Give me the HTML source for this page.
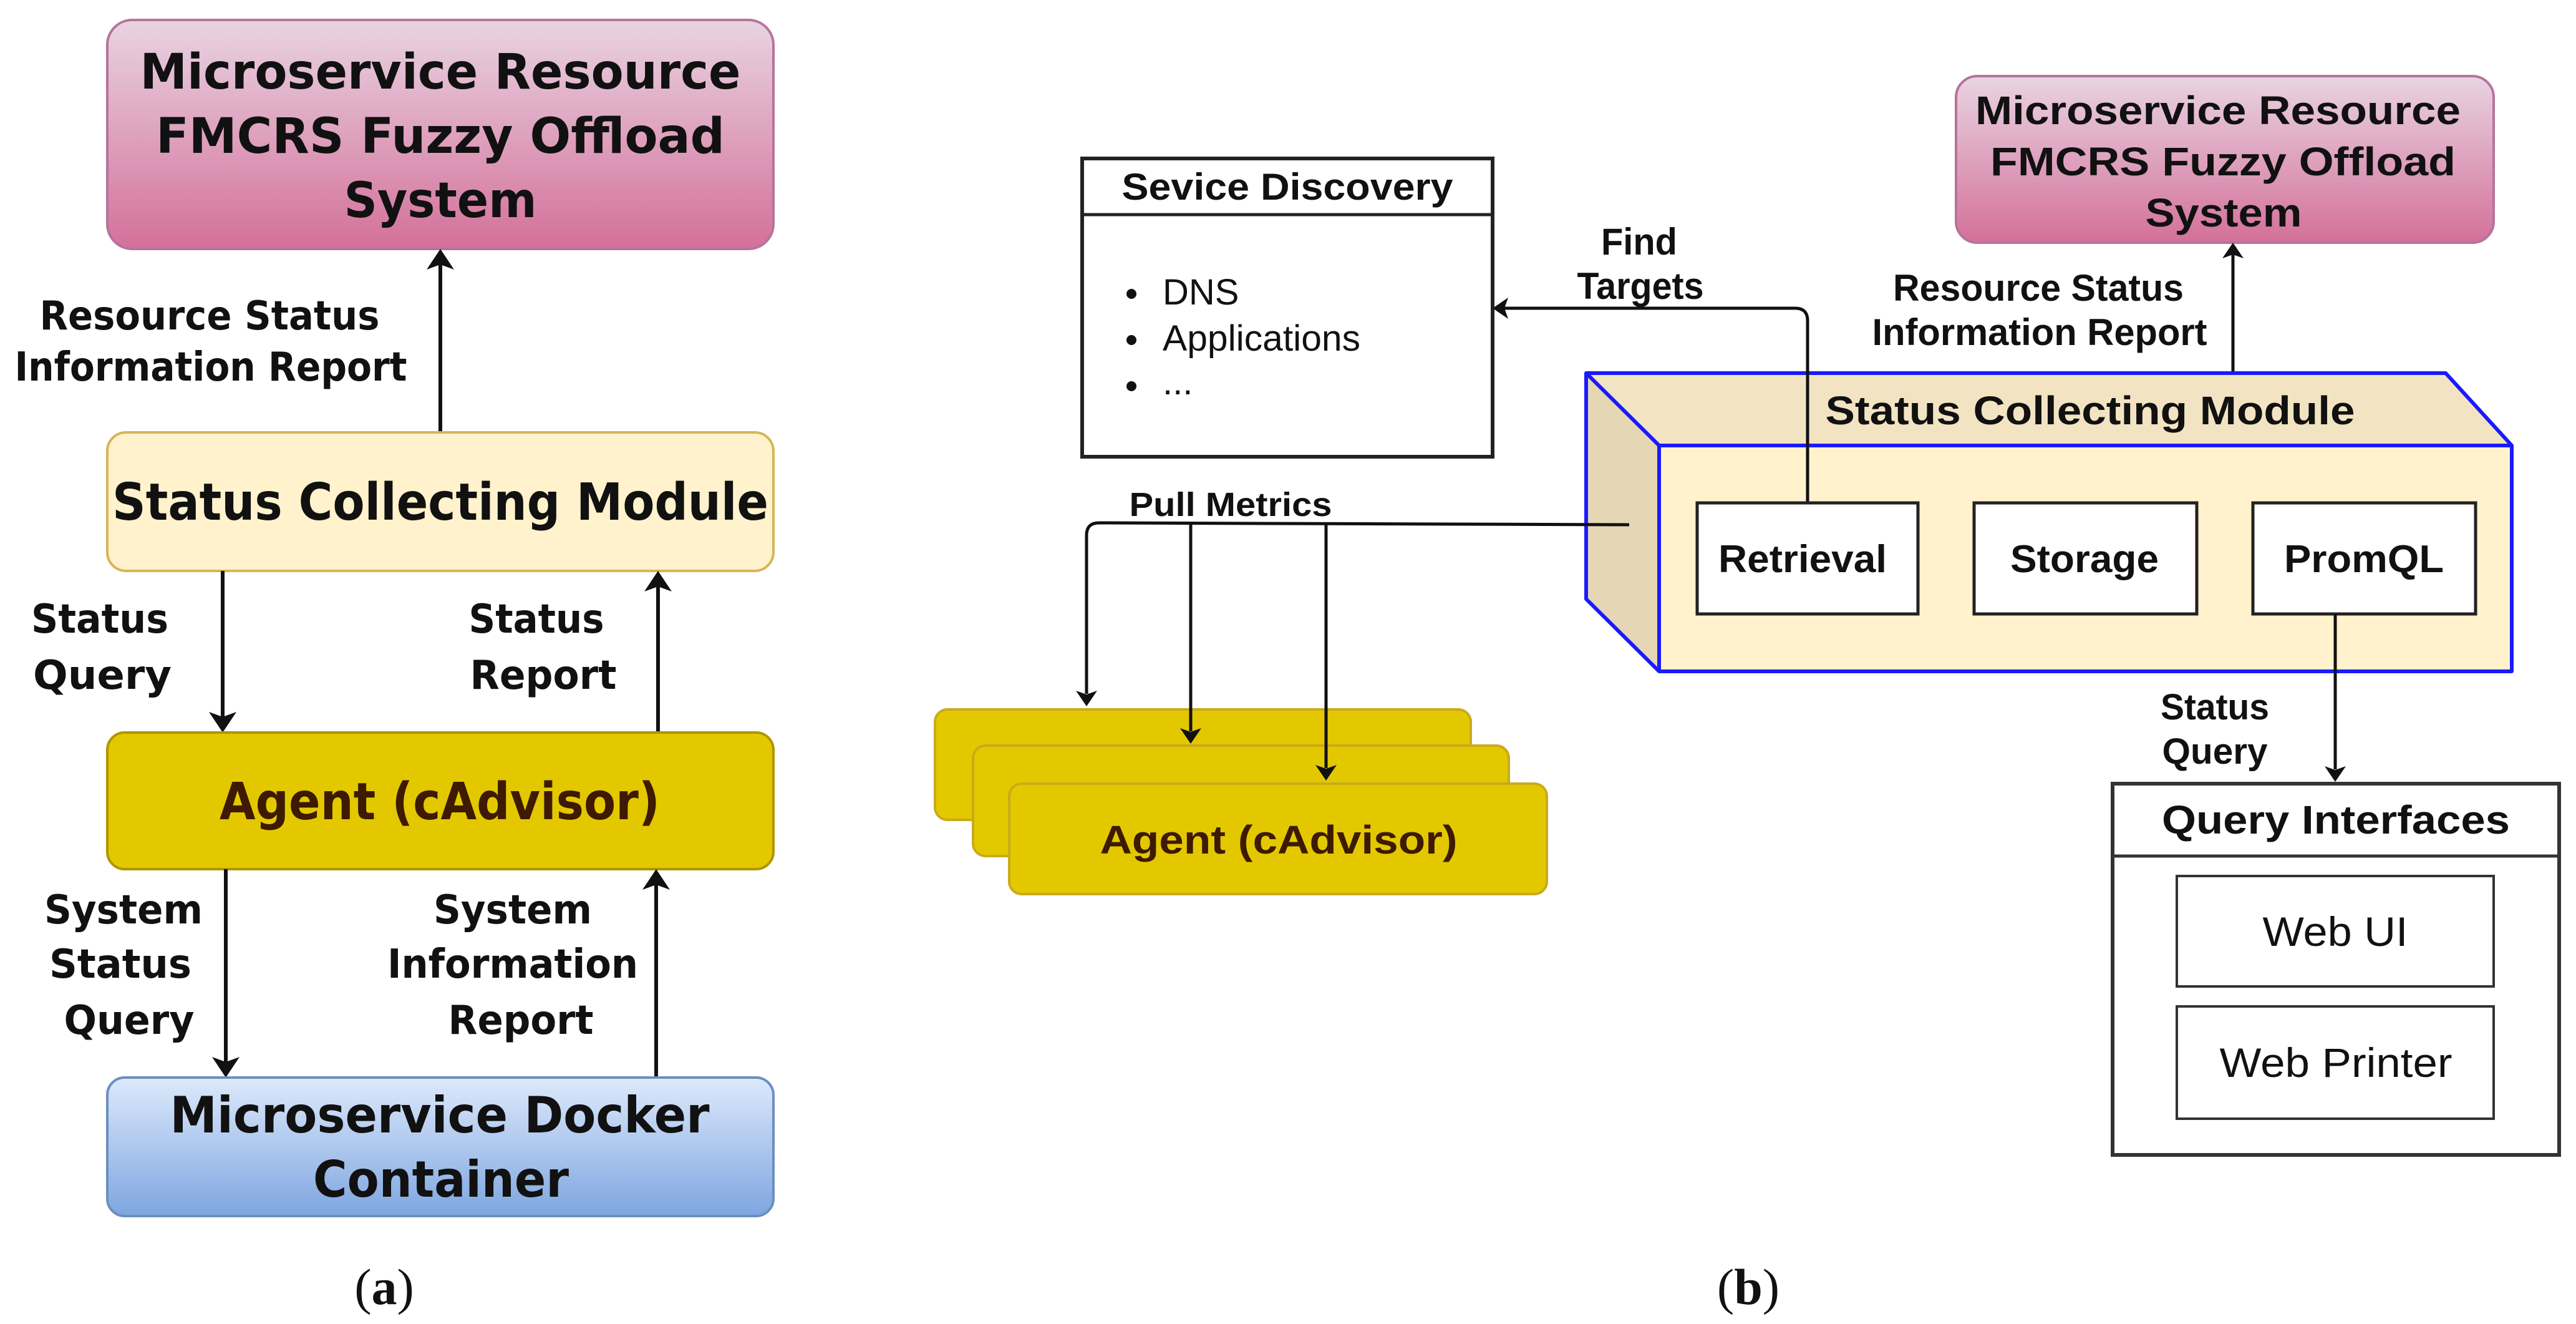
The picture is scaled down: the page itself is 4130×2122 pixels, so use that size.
<!DOCTYPE html>
<html><head><meta charset="utf-8"><style>
html,body{margin:0;padding:0;background:#fff;}
svg{display:block;}
</style></head><body>
<svg xmlns="http://www.w3.org/2000/svg" width="4130" height="2122" viewBox="0 0 4130 2122">
<defs>
<linearGradient id="pink" x1="0" y1="0" x2="0" y2="1"><stop offset="0" stop-color="#e8d4e2"/><stop offset="1" stop-color="#d4709a"/></linearGradient>
<linearGradient id="blue" x1="0" y1="0" x2="0" y2="1"><stop offset="0" stop-color="#dde9fb"/><stop offset="1" stop-color="#7ea6e0"/></linearGradient>
</defs>
<style>
.a{font-family:"DejaVu Sans","Liberation Sans",sans-serif;font-weight:bold;fill:#111;}
.b{font-family:"Liberation Sans",sans-serif;font-weight:bold;fill:#111;}
.n{font-family:"Liberation Sans",sans-serif;fill:#111;}
.s{font-family:"Liberation Serif",serif;fill:#111;}
.ln{stroke:#111;stroke-width:6;fill:none;}
</style>

<!-- ===== Panel (a) ===== -->
<rect x="172" y="32" width="1068" height="367" rx="40" fill="url(#pink)" stroke="#b5739d" stroke-width="4"/>
<text class="a" font-size="78" x="706" y="142" text-anchor="middle" textLength="963" lengthAdjust="spacingAndGlyphs">Microservice Resource</text>
<text class="a" font-size="78" x="706" y="245" text-anchor="middle" textLength="912" lengthAdjust="spacingAndGlyphs">FMCRS Fuzzy Offload</text>
<text class="a" font-size="78" x="706" y="348" text-anchor="middle" textLength="309" lengthAdjust="spacingAndGlyphs">System</text>

<line class="ln" x1="706" y1="693" x2="706" y2="420"/>
<polygon points="706,399 684,432 706,424 728,432" fill="#111"/>
<text class="a" font-size="64" x="336" y="528" text-anchor="middle" textLength="545" lengthAdjust="spacingAndGlyphs">Resource Status</text>
<text class="a" font-size="64" x="338" y="610" text-anchor="middle" textLength="629" lengthAdjust="spacingAndGlyphs">Information Report</text>

<rect x="172" y="693" width="1068" height="222" rx="30" fill="#fff2cc" stroke="#d6b656" stroke-width="4"/>
<text class="a" font-size="82" x="706" y="833" text-anchor="middle" textLength="1052" lengthAdjust="spacingAndGlyphs">Status Collecting Module</text>

<line class="ln" x1="357" y1="915" x2="357" y2="1152"/>
<polygon points="357,1174 335,1141 357,1149 379,1141" fill="#111"/>
<line class="ln" x1="1055" y1="1174" x2="1055" y2="936"/>
<polygon points="1055,915 1033,948 1055,940 1077,948" fill="#111"/>
<text class="a" font-size="64" x="160" y="1014" text-anchor="middle" textLength="220" lengthAdjust="spacingAndGlyphs">Status</text>
<text class="a" font-size="64" x="164" y="1104" text-anchor="middle" textLength="222" lengthAdjust="spacingAndGlyphs">Query</text>
<text class="a" font-size="64" x="860" y="1014" text-anchor="middle" textLength="217" lengthAdjust="spacingAndGlyphs">Status</text>
<text class="a" font-size="64" x="871" y="1104" text-anchor="middle" textLength="235" lengthAdjust="spacingAndGlyphs">Report</text>

<rect x="172" y="1174" width="1068" height="219" rx="28" fill="#e3c800" stroke="#b09500" stroke-width="4"/>
<text class="a" font-size="82" x="705" y="1313" text-anchor="middle" textLength="706" lengthAdjust="spacingAndGlyphs" style="fill:#3d1a00">Agent (cAdvisor)</text>

<line class="ln" x1="362" y1="1393" x2="362" y2="1705"/>
<polygon points="362,1727 340,1694 362,1702 384,1694" fill="#111"/>
<line class="ln" x1="1052" y1="1727" x2="1052" y2="1414"/>
<polygon points="1052,1393 1030,1426 1052,1418 1074,1426" fill="#111"/>
<text class="a" font-size="64" x="198" y="1480" text-anchor="middle" textLength="254" lengthAdjust="spacingAndGlyphs">System</text>
<text class="a" font-size="64" x="193" y="1567" text-anchor="middle" textLength="228" lengthAdjust="spacingAndGlyphs">Status</text>
<text class="a" font-size="64" x="207" y="1657" text-anchor="middle" textLength="209" lengthAdjust="spacingAndGlyphs">Query</text>
<text class="a" font-size="64" x="822" y="1480" text-anchor="middle" textLength="254" lengthAdjust="spacingAndGlyphs">System</text>
<text class="a" font-size="64" x="822" y="1567" text-anchor="middle" textLength="402" lengthAdjust="spacingAndGlyphs">Information</text>
<text class="a" font-size="64" x="835" y="1657" text-anchor="middle" textLength="233" lengthAdjust="spacingAndGlyphs">Report</text>

<rect x="172" y="1727" width="1068" height="222" rx="28" fill="url(#blue)" stroke="#6c8ebf" stroke-width="4"/>
<text class="a" font-size="80" x="705" y="1815" text-anchor="middle" textLength="865" lengthAdjust="spacingAndGlyphs">Microservice Docker</text>
<text class="a" font-size="80" x="707" y="1918" text-anchor="middle" textLength="410" lengthAdjust="spacingAndGlyphs">Container</text>

<text class="s" font-size="82" x="616" y="2090" text-anchor="middle">(<tspan font-weight="bold">a</tspan>)</text>

<!-- ===== Panel (b) ===== -->
<rect x="1735" y="254" width="658" height="478" fill="#fff" stroke="#222" stroke-width="6"/>
<line x1="1735" y1="344" x2="2393" y2="344" stroke="#222" stroke-width="5"/>
<text class="b" font-size="60" x="2064" y="320" text-anchor="middle" textLength="531" lengthAdjust="spacingAndGlyphs">Sevice Discovery</text>
<circle cx="1814" cy="471" r="8" fill="#111"/>
<circle cx="1814" cy="545" r="8" fill="#111"/>
<circle cx="1814" cy="619" r="8" fill="#111"/>
<text class="n" font-size="58" x="1864" y="488">DNS</text>
<text class="n" font-size="58" x="1864" y="562" textLength="317" lengthAdjust="spacingAndGlyphs">Applications</text>
<text class="n" font-size="58" x="1864" y="632">...</text>

<rect x="3136" y="122" width="862" height="267" rx="34" fill="url(#pink)" stroke="#b5739d" stroke-width="4"/>
<text class="b" font-size="64" x="3556" y="199" text-anchor="middle" textLength="778" lengthAdjust="spacingAndGlyphs">Microservice Resource</text>
<text class="b" font-size="64" x="3564" y="281" text-anchor="middle" textLength="746" lengthAdjust="spacingAndGlyphs">FMCRS Fuzzy Offload</text>
<text class="b" font-size="64" x="3565" y="363" text-anchor="middle" textLength="251" lengthAdjust="spacingAndGlyphs">System</text>
<line x1="3580" y1="598" x2="3580" y2="405" stroke="#111" stroke-width="5"/>
<polygon points="3580,389 3563,414 3580,408 3597,414" fill="#111"/>
<text class="b" font-size="60" x="3268" y="482" text-anchor="middle" textLength="466" lengthAdjust="spacingAndGlyphs">Resource Status</text>
<text class="b" font-size="60" x="3270" y="553" text-anchor="middle" textLength="537" lengthAdjust="spacingAndGlyphs">Information Report</text>

<text class="b" font-size="60" x="2628" y="408" text-anchor="middle" textLength="122" lengthAdjust="spacingAndGlyphs">Find</text>
<text class="b" font-size="60" x="2630" y="479" text-anchor="middle" textLength="203" lengthAdjust="spacingAndGlyphs">Targets</text>

<polygon points="2543,598 3921,598 4027,714 2660,714" fill="#f2e4c2"/>
<polygon points="2543,598 2660,714 2660,1076 2543,960" fill="#e6d7b4"/>
<rect x="2660" y="714" width="1367" height="362" fill="#fff2cc"/>
<path d="M2543,598 L3921,598 L4027,714 L4027,1076 L2660,1076 L2543,960 Z M2543,598 L2660,714 L4027,714 M2660,714 L2660,1076" fill="none" stroke="#1a1aff" stroke-width="6" stroke-linejoin="round"/>
<text class="b" font-size="64" x="3351" y="680" text-anchor="middle" textLength="849" lengthAdjust="spacingAndGlyphs">Status Collecting Module</text>

<path d="M2898,806 L2898,514 Q2898,494 2878,494 L2412,494" fill="none" stroke="#111" stroke-width="5"/>
<polygon points="2393,494 2418,477 2412,494 2418,511" fill="#111"/>

<rect x="2721" y="806" width="354" height="178" fill="#fff" stroke="#222" stroke-width="5"/>
<rect x="3165" y="806" width="357" height="178" fill="#fff" stroke="#222" stroke-width="5"/>
<rect x="3612" y="806" width="357" height="178" fill="#fff" stroke="#222" stroke-width="5"/>
<text class="b" font-size="62" x="2890" y="917" text-anchor="middle" textLength="270" lengthAdjust="spacingAndGlyphs">Retrieval</text>
<text class="b" font-size="62" x="3342" y="917" text-anchor="middle" textLength="238" lengthAdjust="spacingAndGlyphs">Storage</text>
<text class="b" font-size="62" x="3790" y="917" text-anchor="middle" textLength="256" lengthAdjust="spacingAndGlyphs">PromQL</text>

<!-- agents (drawn first) -->
<rect x="1499" y="1137" width="859" height="177" rx="20" fill="#e3c800" stroke="#c8ab1a" stroke-width="4"/>
<rect x="1560" y="1195" width="859" height="177" rx="20" fill="#e3c800" stroke="#c8ab1a" stroke-width="4"/>
<rect x="1618" y="1256" width="862" height="177" rx="20" fill="#e3c800" stroke="#c8ab1a" stroke-width="4"/>
<text class="b" font-size="64" x="2050" y="1368" text-anchor="middle" textLength="573" lengthAdjust="spacingAndGlyphs" style="fill:#3d1a00">Agent (cAdvisor)</text>

<!-- pull metrics (on top) -->
<path d="M2612,841 L1762,838 Q1742,838 1742,858 L1742,1112" fill="none" stroke="#111" stroke-width="5"/>
<polygon points="1742,1132 1725,1107 1742,1113 1759,1107" fill="#111"/>
<line x1="1909" y1="840" x2="1909" y2="1172" stroke="#111" stroke-width="5"/>
<polygon points="1909,1192 1892,1167 1909,1173 1926,1167" fill="#111"/>
<line x1="2126" y1="841" x2="2126" y2="1231" stroke="#111" stroke-width="5"/>
<polygon points="2126,1251 2109,1226 2126,1232 2143,1226" fill="#111"/>
<text class="b" font-size="54" x="1973" y="827" text-anchor="middle" textLength="325" lengthAdjust="spacingAndGlyphs">Pull Metrics</text>

<line x1="3744" y1="984" x2="3744" y2="1233" stroke="#111" stroke-width="5"/>
<polygon points="3744,1253 3727,1228 3744,1234 3761,1228" fill="#111"/>
<text class="b" font-size="58" x="3551" y="1153" text-anchor="middle" textLength="174" lengthAdjust="spacingAndGlyphs">Status</text>
<text class="b" font-size="58" x="3551" y="1224" text-anchor="middle" textLength="169" lengthAdjust="spacingAndGlyphs">Query</text>

<rect x="3387" y="1256" width="716" height="595" fill="#fff" stroke="#333" stroke-width="6"/>
<line x1="3387" y1="1372" x2="4103" y2="1372" stroke="#333" stroke-width="5"/>
<text class="b" font-size="64" x="3745" y="1336" text-anchor="middle" textLength="558" lengthAdjust="spacingAndGlyphs">Query Interfaces</text>
<rect x="3490" y="1404" width="508" height="177" fill="#fff" stroke="#333" stroke-width="4"/>
<rect x="3490" y="1613" width="508" height="180" fill="#fff" stroke="#333" stroke-width="4"/>
<text class="n" font-size="66" x="3744" y="1516" text-anchor="middle" textLength="233" lengthAdjust="spacingAndGlyphs">Web UI</text>
<text class="n" font-size="66" x="3745" y="1726" text-anchor="middle" textLength="373" lengthAdjust="spacingAndGlyphs">Web Printer</text>

<text class="s" font-size="82" x="2803" y="2090" text-anchor="middle">(<tspan font-weight="bold">b</tspan>)</text>
</svg>
</body></html>
